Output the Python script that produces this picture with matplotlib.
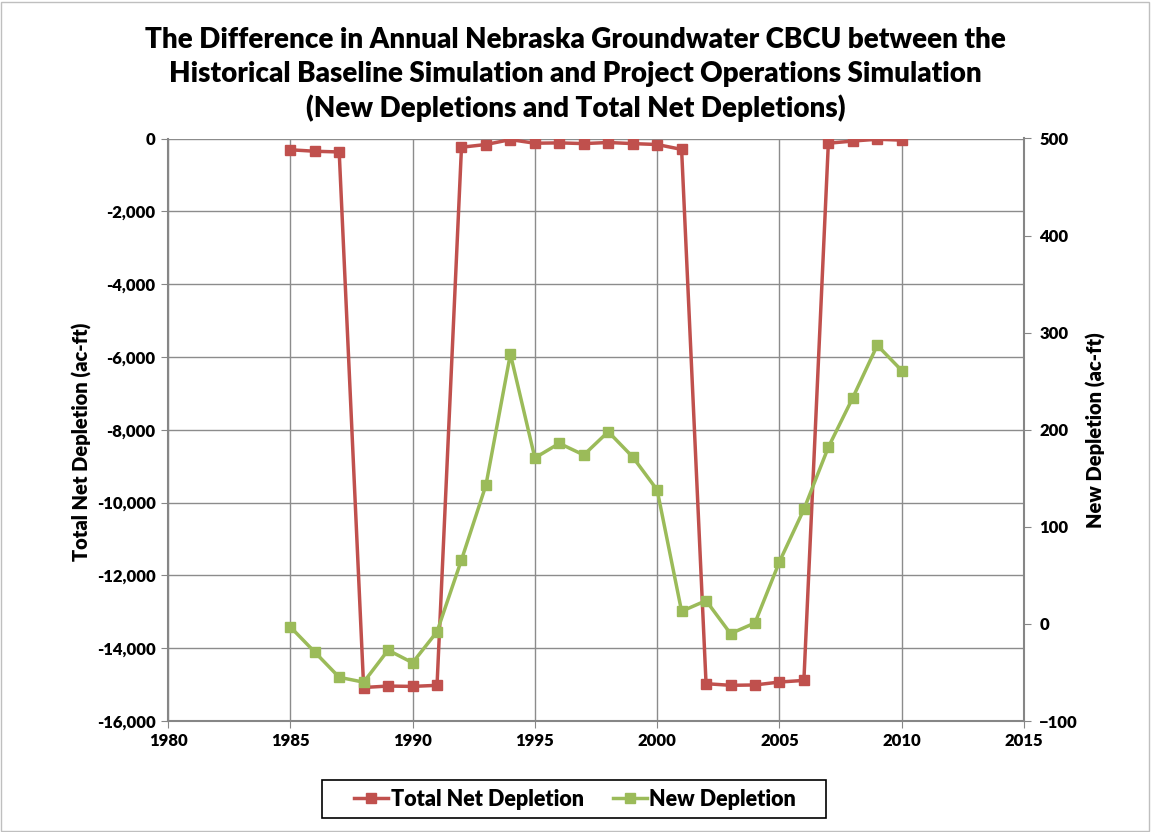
import matplotlib
matplotlib.use("Agg")
import matplotlib.pyplot as plt
from matplotlib.ticker import FuncFormatter, MultipleLocator

plt.rcParams['font.family'] = ['Lato', 'DejaVu Sans']
plt.rcParams['font.weight'] = 'bold'

years = list(range(1985, 2011))
total_net_depletion = [-310, -350, -370, -15080, -15040, -15050, -15020, -240, -165, -30,
                       -130, -120, -140, -110, -140, -165, -300, -14975, -15020, -15010,
                       -14930, -14885, -130, -70, -20, -45]
new_depletion = [-3, -29, -55, -60, -27, -40, -8, 66, 143, 278,
                 171, 186, 174, 198, 172, 138, 13, 24, -10, 1,
                 64, 118, 182, 233, 287, 261]

title = ("The Difference in Annual Nebraska Groundwater CBCU between the\n"
         "Historical Baseline Simulation and Project Operations Simulation\n"
         "(New Depletions and Total Net Depletions)")

red = '#C0504D'
green = '#9BBB59'
axis_gray = '#868686'

W, H = 1151, 832
fig = plt.figure(figsize=(W / 100, H / 100), dpi=100)
ax = fig.add_axes([168/W, 1-721/H, (1024-168)/W, (721-138.5)/H])
ax2 = ax.twinx()

l1, = ax.plot(years, total_net_depletion, color=red, lw=2.5, marker='s', ms=7,
              label='Total Net Depletion', zorder=3)
l2, = ax2.plot(years, new_depletion, color=green, lw=2.5, marker='s', ms=7,
               label='New Depletion', zorder=3)

ax.set_xlim(1980, 2015)
ax.set_ylim(-16000, 0)
ax2.set_ylim(-100, 500)
ax.xaxis.set_major_locator(MultipleLocator(5))
ax.yaxis.set_major_locator(MultipleLocator(2000))
ax2.yaxis.set_major_locator(MultipleLocator(100))
ax.yaxis.set_major_formatter(FuncFormatter(lambda v, p: f"{v:,.0f}"))

ax.grid(True, color='#8C8C8C', lw=1.0)
ax.set_axisbelow(True)

for a in (ax, ax2):
    for s in a.spines.values():
        s.set_visible(False)
ax.spines['left'].set_visible(True)
ax.spines['bottom'].set_visible(True)
ax2.spines['right'].set_visible(True)
for s in (ax.spines['left'], ax.spines['bottom'], ax2.spines['right']):
    s.set_color(axis_gray)
    s.set_linewidth(1.5)

ax.tick_params(axis='both', direction='out', length=5, color=axis_gray,
               labelsize=12, pad=4)
ax2.tick_params(axis='y', direction='out', length=5, color=axis_gray,
                labelsize=12, pad=6)
for lab in ax.get_xticklabels() + ax.get_yticklabels() + ax2.get_yticklabels():
    lab.set_fontweight('heavy')

ax.set_ylabel('Total Net Depletion (ac-ft)', fontsize=14.5, fontweight='heavy')
ax.yaxis.set_label_coords(-0.089, 0.48)
ax2.set_ylabel('New Depletion (ac-ft)', fontsize=14.5, fontweight='heavy')
ax2.yaxis.set_label_coords(1.072, 0.5)

fig.suptitle(title, fontsize=20, fontweight='heavy', y=0.967, linespacing=1.34)

# legend entries without their own frame; the box is drawn separately
leg = fig.legend(handles=[l1, l2], loc='center', bbox_to_anchor=(575/W, 1-799/H),
                 ncol=2, fontsize=15.5, frameon=False,
                 handlelength=1.6, handletextpad=0.1,
                 columnspacing=1.35, borderpad=0.0)
for t in leg.get_texts():
    t.set_fontweight('heavy')
fig.patches.append(plt.Rectangle((322/W, 1-818/H), (826-322)/W, 38/H,
                                 transform=fig.transFigure, fill=False,
                                 edgecolor='black', lw=1.2))

fig.patches.append(plt.Rectangle((0.001, 0.001), 0.997, 0.997, transform=fig.transFigure,
                                 fill=False, edgecolor='#BFBFBF', lw=1))

fig.savefig('out.png', dpi=100, facecolor='white')
